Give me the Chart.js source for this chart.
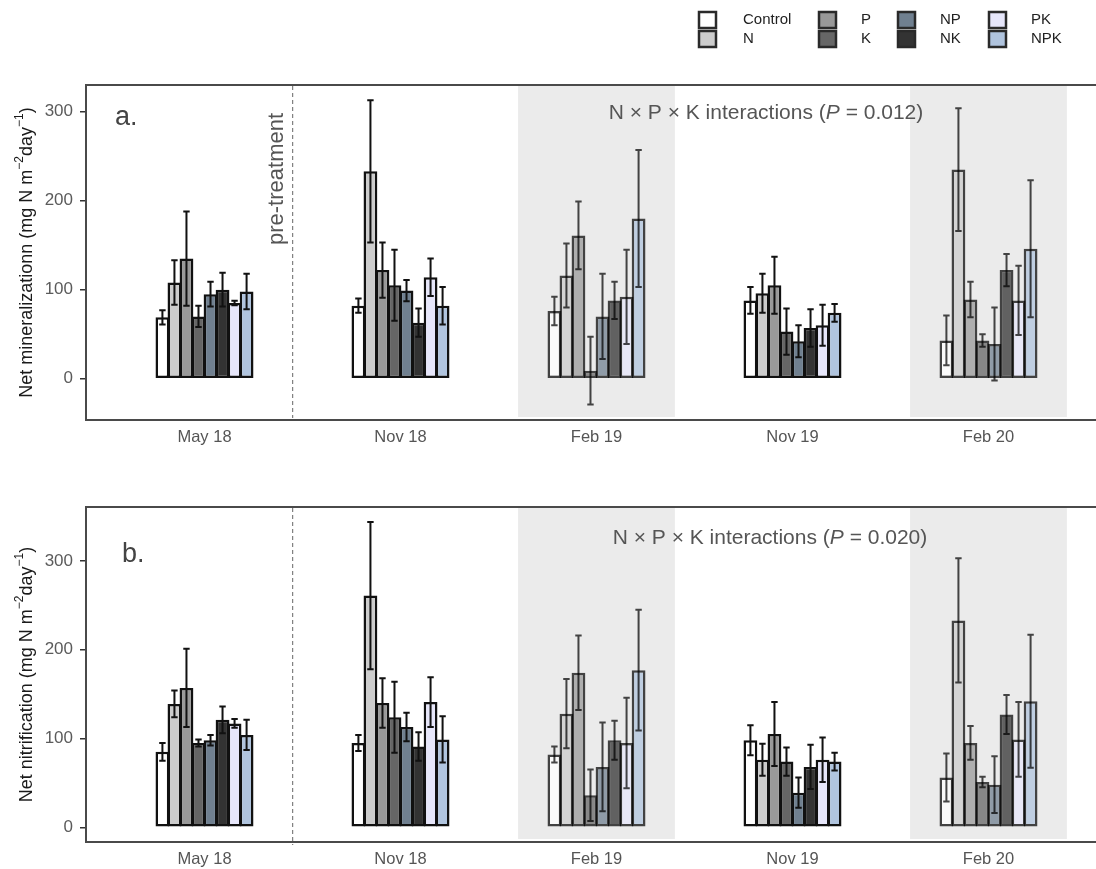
<!DOCTYPE html>
<html>
<head>
<meta charset="utf-8">
<script src="https://cdn.jsdelivr.net/npm/chart.js@4.4.1/dist/chart.umd.min.js"></script>
<style>
  body { margin: 0; background: #fff; }
  #wrap { position: relative; width: 1096px; height: 869px; }
  canvas { position: absolute; left: 0; }
</style>
</head>
<body>
<div id="wrap">
  <canvas id="chartA" width="1096" height="455" style="top:0"></canvas>
  <canvas id="chartB" width="1096" height="414" style="top:455px"></canvas>
</div>
<script>
const periods = ['May 18', 'Nov 18', 'Feb 19', 'Nov 19', 'Feb 20'];
const shadedPeriods = ['Feb 19', 'Feb 20'];
const treatments = ['Control', 'N', 'P', 'K', 'NP', 'NK', 'PK', 'NPK'];
const treatmentColors = ['#ffffff', '#cccccc', '#999999', '#666666', '#708090', '#333333', '#e6e6fa', '#b0c4de'];
const yTicks = [0, 100, 200, 300];
const preTreatmentAt = 1.45;

// a. net mineralization, mean per period (May 18 .. Feb 20)
const minControl = [69, 82, 76, 88, 43];
const minN = [108, 233, 116, 96, 235];
const minP = [135, 122, 161, 105, 89];
const minK = [70, 105, 9, 53, 43];
const minNP = [95, 99, 70, 42, 39];
const minNK = [100, 63, 88, 57, 122];
const minPK = [85, 114, 92, 60, 88];
const minNPK = [98, 82, 180, 74, 146];
// a. standard errors
const minErrControl = [8, 8, 16, 15, 28];
const minErrN = [25, 80, 36, 22, 69];
const minErrP = [53, 31, 38, 32, 20];
const minErrK = [12, 40, 38, 26, 7];
const minErrNP = [14, 12, 48, 18, 41];
const minErrNK = [19, 16, 21, 21, 18];
const minErrPK = [2.5, 21, 53, 23, 39];
const minErrNPK = [20, 21, 77, 10, 77];

// b. net nitrification, mean per period
const nitControl = [85, 95, 82, 98, 56];
const nitN = [139, 261, 128, 76, 233];
const nitP = [157, 140, 174, 105, 95];
const nitK = [95, 124, 36, 74, 51];
const nitNP = [98, 113, 68, 39, 48];
const nitNK = [121, 91, 98, 68, 127];
const nitPK = [117, 141, 95, 76, 99];
const nitNPK = [104, 99, 177, 74, 142];
// b. standard errors
const nitErrControl = [10, 9, 9, 17, 27];
const nitErrN = [15, 83, 39, 18, 70];
const nitErrP = [44, 28, 42, 36, 19];
const nitErrK = [4, 40, 29, 16, 6];
const nitErrNP = [6, 16, 50, 17, 32];
const nitErrNK = [15, 16, 22, 25, 22];
const nitErrPK = [5, 28, 51, 25, 42];
const nitErrNPK = [17, 26, 68, 10, 75];

const FONT = '"Liberation Sans", Arial, Helvetica, sans-serif';

function fade(hex, a) {
  const n = parseInt(hex.slice(1), 16);
  return 'rgba(' + (n >> 16) + ',' + ((n >> 8) & 255) + ',' + (n & 255) + ',' + a + ')';
}

function makeDatasets(means, errs) {
  return treatments.map((name, t) => ({
    label: name,
    data: periods.map((p, i) => ({ x: i + 1, y: means[t][i] })),
    errors: errs[t],
    backgroundColor: periods.map(p => shadedPeriods.includes(p) ? fade(treatmentColors[t], 0.75) : treatmentColors[t]),
    borderColor: periods.map(p => shadedPeriods.includes(p) ? 'rgba(0,0,0,0.72)' : '#111'),
    borderWidth: 2.5,
    borderSkipped: false,
    barPercentage: 1.15,
    categoryPercentage: 0.4908
  }));
}

// draw text pieces one after the other: [text, font, dy]
function drawPieces(ctx, pieces, x, y, align) {
  let total = 0;
  pieces.forEach(p => { ctx.font = p[1]; total += ctx.measureText(p[0]).width; });
  let cx = align === 'center' ? x - total / 2 : x;
  ctx.textAlign = 'left';
  pieces.forEach(p => {
    ctx.font = p[1];
    ctx.fillText(p[0], cx, y + (p[2] || 0));
    cx += ctx.measureText(p[0]).width;
  });
}

const decor = {
  id: 'decor',
  beforeDatasetsDraw(chart) {
    const { ctx, chartArea: a, scales: { x } } = chart;
    ctx.save();
    ctx.fillStyle = '#ebebeb';
    shadedPeriods.forEach(p => {
      const c = periods.indexOf(p) + 1;
      const l = x.getPixelForValue(c - 0.4), r = x.getPixelForValue(c + 0.4);
      ctx.fillRect(l, a.top + 1, r - l, a.bottom - a.top - 4);
    });
    ctx.restore();
  },
  afterDatasetsDraw(chart, args, opts) {
    const { ctx, chartArea: a, scales: { x, y } } = chart;
    ctx.save();

    // error bars
    chart.data.datasets.forEach((ds, di) => {
      const meta = chart.getDatasetMeta(di);
      meta.data.forEach((bar, i) => {
        const v = ds.data[i].y, e = ds.errors[i];
        const top = y.getPixelForValue(v + e), bot = y.getPixelForValue(v - e);
        ctx.strokeStyle = shadedPeriods.includes(periods[i]) ? 'rgba(0,0,0,0.72)' : '#111';
        ctx.lineWidth = 2;
        ctx.beginPath();
        ctx.moveTo(bar.x, top); ctx.lineTo(bar.x, bot);
        ctx.moveTo(bar.x - 3.2, top); ctx.lineTo(bar.x + 3.2, top);
        ctx.moveTo(bar.x - 3.2, bot); ctx.lineTo(bar.x + 3.2, bot);
        ctx.stroke();
      });
    });

    // pre-treatment divider
    const px = x.getPixelForValue(preTreatmentAt);
    ctx.strokeStyle = '#666';
    ctx.lineWidth = 1;
    ctx.setLineDash([4, 3]);
    ctx.beginPath();
    ctx.moveTo(px, a.top + 1);
    ctx.lineTo(px, a.bottom + opts.dashExtra);
    ctx.stroke();
    ctx.setLineDash([]);

    // frame
    ctx.strokeStyle = '#4a4a4a';
    ctx.lineWidth = 2;
    ctx.beginPath();
    ctx.moveTo(a.right, a.top); ctx.lineTo(a.left, a.top);
    ctx.lineTo(a.left, a.bottom); ctx.lineTo(a.right, a.bottom);
    ctx.stroke();

    ctx.fillStyle = '#444';
    ctx.textBaseline = 'alphabetic';
    ctx.font = '27px ' + FONT;
    ctx.textAlign = 'left';
    ctx.fillText(opts.letter, opts.letterX, opts.letterY);

    if (opts.pre) {
      ctx.save();
      ctx.translate(px - 10, a.top + 160);
      ctx.rotate(-Math.PI / 2);
      ctx.fillStyle = '#555';
      ctx.font = '22px ' + FONT;
      ctx.textAlign = 'left';
      ctx.fillText('pre-treatment', 0, 0);
      ctx.restore();
    }

    ctx.fillStyle = '#555';
    ctx.textBaseline = 'middle';
    drawPieces(ctx, [
      ['N \u00d7 P \u00d7 K interactions (', '21px ' + FONT],
      ['P', 'italic 21px ' + FONT],
      [' = ' + opts.pValue + ')', '21px ' + FONT]
    ], opts.noteX, opts.noteY, 'center');

    // y axis title with superscripts
    ctx.save();
    ctx.translate(opts.titleX, (a.top + a.bottom) / 2 + opts.titleShift);
    ctx.rotate(-Math.PI / 2);
    ctx.fillStyle = '#1a1a1a';
    ctx.textBaseline = 'middle';
    drawPieces(ctx, [
      [opts.yTitle + ' (mg N m', '18px ' + FONT],
      ['\u22122', '12px ' + FONT, -7],
      ['day', '18px ' + FONT],
      ['\u22121', '12px ' + FONT, -7],
      [')', '18px ' + FONT]
    ], 0, 0, 'center');
    ctx.restore();

    if (opts.legend) {
      const colX = [699, 819, 898, 989];
      const textX = [743, 861, 940, 1031];
      const rowY = [20, 39];
      treatments.forEach((name, t) => {
        const c = Math.floor(t / 2), r = t % 2;
        ctx.fillStyle = treatmentColors[t];
        ctx.fillRect(colX[c], rowY[r] - 8, 17, 16);
        ctx.strokeStyle = '#2a2a2a';
        ctx.lineWidth = 2.5;
        ctx.strokeRect(colX[c], rowY[r] - 8, 17, 16);
        ctx.fillStyle = '#222';
        ctx.font = '15px ' + FONT;
        ctx.textAlign = 'left';
        ctx.textBaseline = 'middle';
        ctx.fillText(name, textX[c], rowY[r]);
      });
    }
    ctx.restore();
  }
};

function makeChart(id, means, errs, yMin, yMax, padTop, axisH, decorOpts) {
  return new Chart(document.getElementById(id), {
    type: 'bar',
    data: { datasets: makeDatasets(means, errs) },
    options: {
      responsive: false,
      animation: false,
      layout: { padding: { top: padTop, left: 0, right: 0, bottom: 0 } },
      plugins: { legend: { display: false }, tooltip: { enabled: false }, decor: decorOpts },
      scales: {
        x: {
          type: 'linear',
          min: 0.3954,
          max: 5.5485,
          offset: false,
          grid: { display: false, drawTicks: false },
          border: { display: false },
          afterBuildTicks: axis => { axis.ticks = periods.map((p, i) => ({ value: i + 1 })); },
          afterFit: axis => { axis.height = axisH; },
          ticks: {
            callback: v => periods[v - 1],
            color: '#555',
            font: { family: FONT, size: 16.5 },
            padding: 8,
            maxRotation: 0,
            autoSkip: false
          }
        },
        y: {
          min: yMin,
          max: yMax,
          grid: { drawOnChartArea: false, drawTicks: true, tickLength: 6, color: '#333', lineWidth: 1.5 },
          border: { display: false },
          afterBuildTicks: axis => { axis.ticks = yTicks.map(v => ({ value: v })); },
          afterFit: axis => { axis.width = 86; },
          ticks: { color: '#5b5b5b', font: { family: FONT, size: 17 }, padding: 7 }
        }
      }
    },
    plugins: [decor]
  });
}

makeChart('chartA',
  [minControl, minN, minP, minK, minNP, minNK, minPK, minNPK],
  [minErrControl, minErrN, minErrP, minErrK, minErrNP, minErrNK, minErrPK, minErrNPK],
  -46.4, 330, 85, 35,
  { letter: 'a.', letterX: 115, letterY: 125, pre: true, pValue: '0.012', noteX: 766, noteY: 113,
    yTitle: 'Net mineralizationn', titleX: 27, titleShift: 0, legend: true, dashExtra: -2 });

makeChart('chartB',
  [nitControl, nitN, nitP, nitK, nitNP, nitNK, nitPK, nitNPK],
  [nitErrControl, nitErrN, nitErrP, nitErrK, nitErrNP, nitErrNK, nitErrPK, nitErrNPK],
  -16.6, 360.8, 52, 27,
  { letter: 'b.', letterX: 122, letterY: 107, pre: false, pValue: '0.020', noteX: 770, noteY: 83,
    yTitle: 'Net nitrification', titleX: 27, titleShift: 0, legend: false, dashExtra: 3 });
</script>
</body>
</html>
